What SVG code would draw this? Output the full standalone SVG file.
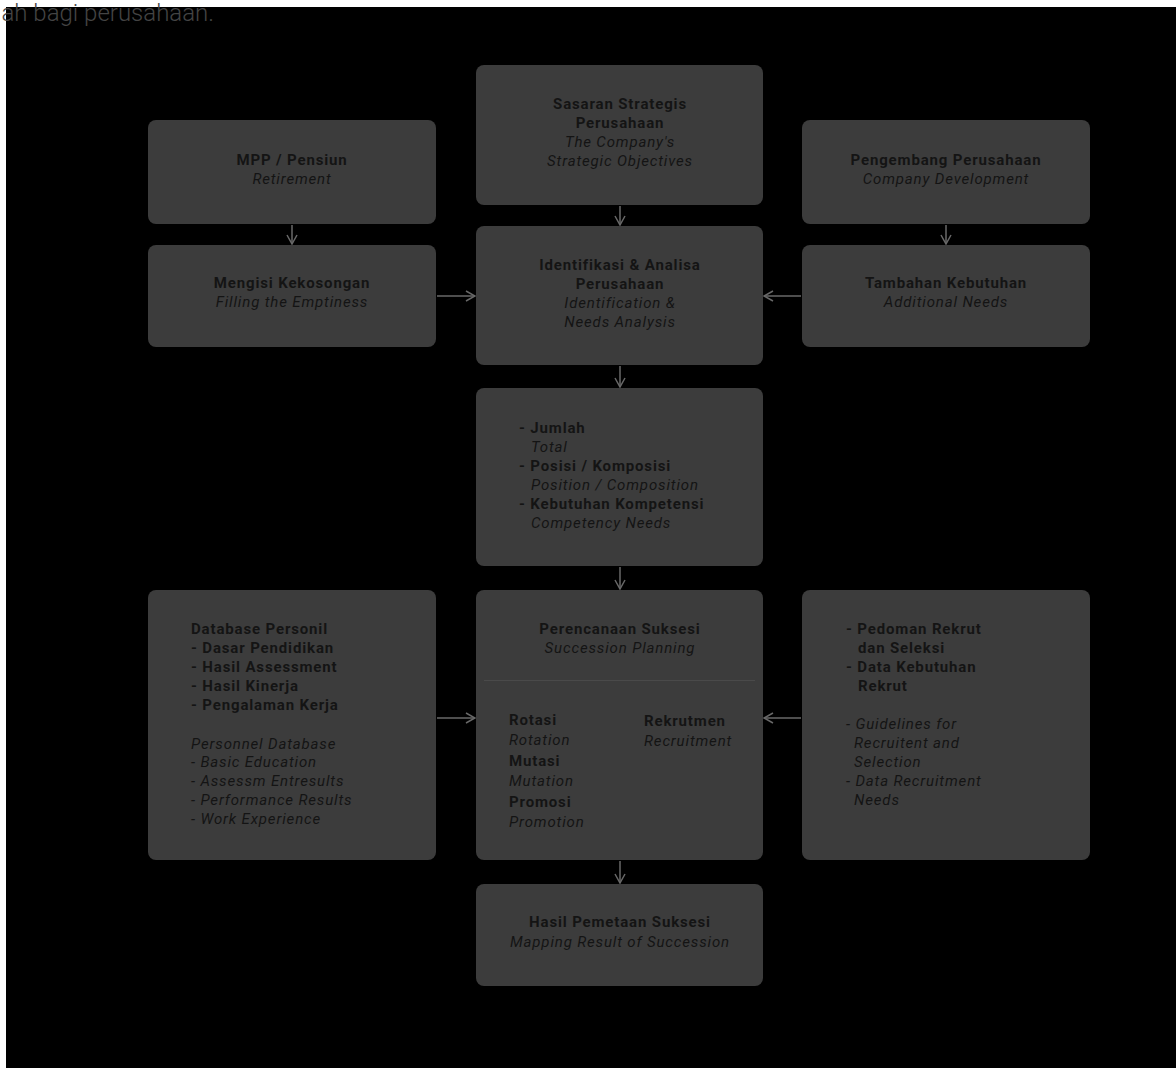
<svg xmlns="http://www.w3.org/2000/svg" width="1176" height="1068" viewBox="0 0 1176 1068">
  <style>
    .box { fill: #3c3c3c; }
    .t { font-family: Roboto, "Liberation Sans", sans-serif; font-size: 15px; letter-spacing: 0.85px; fill: #141414; }
    .b { font-weight: 700; }
    .i { font-style: italic; }
    .c { text-anchor: middle; }
    .conn { stroke: #686868; stroke-width: 1.5; fill: none; marker-end: url(#arr); }
  </style>
  <defs>
    <marker id="arr" viewBox="0 0 12 12" refX="11" refY="6" markerWidth="12" markerHeight="12" markerUnits="userSpaceOnUse" orient="auto">
      <path d="M2,1 L11,6 L2,11" fill="none" stroke="#686868" stroke-width="1.5"/>
    </marker>
  </defs>

  <rect width="1176" height="1068" fill="#ffffff"/>
  <rect x="6" y="7" width="1170" height="1061" fill="#000000"/>
  <text x="214" y="21" text-anchor="end" font-family="Roboto, 'Liberation Sans', sans-serif" font-size="24" font-weight="300" fill="#444444">ah bagi perusahaan.</text>

  <g id="connectors">
    <line class="conn" x1="620" y1="206" x2="620" y2="225"/>
    <line class="conn" x1="292" y1="225" x2="292" y2="244"/>
    <line class="conn" x1="946" y1="225" x2="946" y2="244"/>
    <line class="conn" x1="437" y1="296" x2="475" y2="296"/>
    <line class="conn" x1="801" y1="296" x2="764" y2="296"/>
    <line class="conn" x1="620" y1="366" x2="620" y2="387"/>
    <line class="conn" x1="620" y1="567" x2="620" y2="589"/>
    <line class="conn" x1="437" y1="718" x2="475" y2="718"/>
    <line class="conn" x1="801" y1="718" x2="764" y2="718"/>
    <line class="conn" x1="620" y1="861" x2="620" y2="883"/>
  </g>

  <g id="sasaran">
    <rect class="box" x="476" y="65" width="287" height="140" rx="8"/>
    <text class="t b c" x="620" y="109">Sasaran Strategis</text>
    <text class="t b c" x="620" y="128">Perusahaan</text>
    <text class="t i c" x="620" y="147">The Company's</text>
    <text class="t i c" x="620" y="166">Strategic Objectives</text>
  </g>

  <g id="mpp">
    <rect class="box" x="148" y="120" width="288" height="104" rx="8"/>
    <text class="t b c" x="292" y="165">MPP / Pensiun</text>
    <text class="t i c" x="292" y="184">Retirement</text>
  </g>

  <g id="pengembang">
    <rect class="box" x="802" y="120" width="288" height="104" rx="8"/>
    <text class="t b c" x="946" y="165">Pengembang Perusahaan</text>
    <text class="t i c" x="946" y="184">Company Development</text>
  </g>

  <g id="mengisi">
    <rect class="box" x="148" y="245" width="288" height="102" rx="8"/>
    <text class="t b c" x="292" y="288">Mengisi Kekosongan</text>
    <text class="t i c" x="292" y="307">Filling the Emptiness</text>
  </g>

  <g id="identifikasi">
    <rect class="box" x="476" y="226" width="287" height="139" rx="8"/>
    <text class="t b c" x="620" y="270">Identifikasi &amp; Analisa</text>
    <text class="t b c" x="620" y="289">Perusahaan</text>
    <text class="t i c" x="620" y="308">Identification &amp;</text>
    <text class="t i c" x="620" y="327">Needs Analysis</text>
  </g>

  <g id="tambahan">
    <rect class="box" x="802" y="245" width="288" height="102" rx="8"/>
    <text class="t b c" x="946" y="288">Tambahan Kebutuhan</text>
    <text class="t i c" x="946" y="307">Additional Needs</text>
  </g>

  <g id="jumlah">
    <rect class="box" x="476" y="388" width="287" height="178" rx="8"/>
    <text class="t b" x="519" y="433">- Jumlah</text>
    <text class="t i" x="531" y="452">Total</text>
    <text class="t b" x="519" y="471">- Posisi / Komposisi</text>
    <text class="t i" x="531" y="490">Position / Composition</text>
    <text class="t b" x="519" y="509">- Kebutuhan Kompetensi</text>
    <text class="t i" x="531" y="528">Competency Needs</text>
  </g>

  <g id="database">
    <rect class="box" x="148" y="590" width="288" height="270" rx="8"/>
    <text class="t b" x="191" y="634">Database Personil</text>
    <text class="t b" x="191" y="653">- Dasar Pendidikan</text>
    <text class="t b" x="191" y="672">- Hasil Assessment</text>
    <text class="t b" x="191" y="691">- Hasil Kinerja</text>
    <text class="t b" x="191" y="710">- Pengalaman Kerja</text>
    <text class="t i" x="191" y="749">Personnel Database</text>
    <text class="t i" x="191" y="767">- Basic Education</text>
    <text class="t i" x="191" y="786">- Assessm Entresults</text>
    <text class="t i" x="191" y="805">- Performance Results</text>
    <text class="t i" x="191" y="824">- Work Experience</text>
  </g>

  <g id="perencanaan">
    <rect class="box" x="476" y="590" width="287" height="270" rx="8"/>
    <line x1="484" y1="680.5" x2="755" y2="680.5" stroke="#4a4a4a" stroke-width="1"/>
    <text class="t b c" x="620" y="634">Perencanaan Suksesi</text>
    <text class="t i c" x="620" y="653">Succession Planning</text>
    <text class="t b" x="509" y="725">Rotasi</text>
    <text class="t i" x="509" y="745">Rotation</text>
    <text class="t b" x="509" y="766">Mutasi</text>
    <text class="t i" x="509" y="786">Mutation</text>
    <text class="t b" x="509" y="807">Promosi</text>
    <text class="t i" x="509" y="827">Promotion</text>
    <text class="t b" x="644" y="726">Rekrutmen</text>
    <text class="t i" x="644" y="746">Recruitment</text>
  </g>

  <g id="pedoman">
    <rect class="box" x="802" y="590" width="288" height="270" rx="8"/>
    <text class="t b" x="846" y="634">- Pedoman Rekrut</text>
    <text class="t b" x="858" y="653">dan Seleksi</text>
    <text class="t b" x="846" y="672">- Data Kebutuhan</text>
    <text class="t b" x="858" y="691">Rekrut</text>
    <text class="t i" x="846" y="729">- Guidelines for</text>
    <text class="t i" x="854" y="748">Recruitent and</text>
    <text class="t i" x="854" y="767">Selection</text>
    <text class="t i" x="846" y="786">- Data Recruitment</text>
    <text class="t i" x="854" y="805">Needs</text>
  </g>

  <g id="hasil">
    <rect class="box" x="476" y="884" width="287" height="102" rx="8"/>
    <text class="t b c" x="620" y="927">Hasil Pemetaan Suksesi</text>
    <text class="t i c" x="620" y="947">Mapping Result of Succession</text>
  </g>
</svg>
